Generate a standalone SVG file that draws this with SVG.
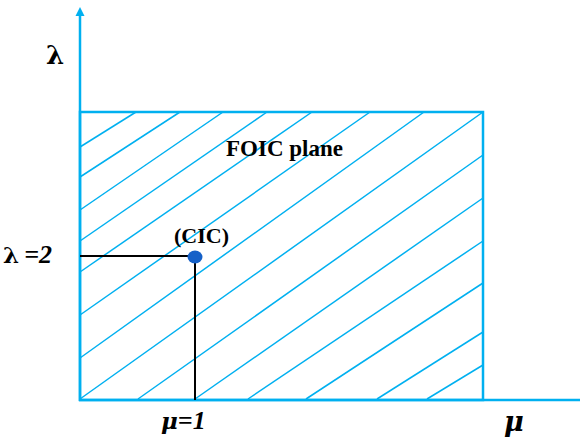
<svg xmlns="http://www.w3.org/2000/svg" width="580" height="438" viewBox="0 0 580 438">
<style>
.ax{stroke:#00B0F0;stroke-width:2.5;fill:none}
.h{stroke:#00B0F0;stroke-width:1.5;fill:none}
.k{stroke:#000;stroke-width:2;fill:none}
.t{font-family:"Liberation Serif","Times New Roman",serif;font-weight:bold;fill:#000}
.g{font-family:"DejaVu Serif","Liberation Serif",serif;font-weight:bold}
</style>
<rect width="580" height="438" fill="#fff"/>
<g id="hatch">
<line class="h" x1="80" y1="147" x2="136" y2="112"/>
<line class="h" x1="80" y1="177" x2="180" y2="112"/>
<line class="h" x1="80" y1="210" x2="223" y2="112"/>
<line class="h" x1="80" y1="241" x2="267" y2="112"/>
<line class="h" x1="80" y1="272" x2="312" y2="112"/>
<line class="h" x1="80" y1="315" x2="370" y2="112"/>
<line class="h" x1="80" y1="358" x2="424" y2="112"/>
<line class="h" x1="80" y1="399" x2="483" y2="112"/>
<line class="h" x1="138" y1="399" x2="483" y2="155"/>
<line class="h" x1="195" y1="399" x2="483" y2="198"/>
<line class="h" x1="248" y1="399" x2="483" y2="241"/>
<line class="h" x1="306" y1="399" x2="483" y2="283"/>
<line class="h" x1="377" y1="399" x2="483" y2="332"/>
<line class="h" x1="427" y1="399" x2="483" y2="365"/>
</g>
<g id="plane">
<rect class="ax" x="80" y="112" width="403" height="288" stroke-width="2"/>
</g>
<g id="axes">
<line class="ax" x1="80" y1="14" x2="80" y2="401"/>
<polygon points="80,7 75.5,16 84.5,16" fill="#00B0F0"/>
<line class="ax" x1="79" y1="400" x2="580" y2="400"/>
</g>
<g id="connectors">
<line class="k" x1="80" y1="256" x2="195" y2="256"/>
<line class="k" x1="195" y1="256" x2="195" y2="400"/>
</g>
<g id="cic">
<ellipse cx="195" cy="257" rx="7.5" ry="6.5" fill="#1560C8"/>
<text class="t" x="174" y="243" font-size="22">(CIC)</text>
</g>
<g id="labels">
<text class="g" x="46" y="64" font-size="26">λ</text>
<text class="t" x="3" y="263" font-size="26"><tspan class="g" font-size="23">λ</tspan><tspan font-style="italic" dx="5">=2</tspan></text>
<text class="t" x="226" y="156" font-size="23">FOIC plane</text>
<text class="t" x="161" y="429" font-size="26" font-style="italic"><tspan class="g" font-size="23">μ</tspan>=1</text>
<text class="g" x="504" y="431" font-size="27" font-style="italic">μ</text>
</g>
</svg>
